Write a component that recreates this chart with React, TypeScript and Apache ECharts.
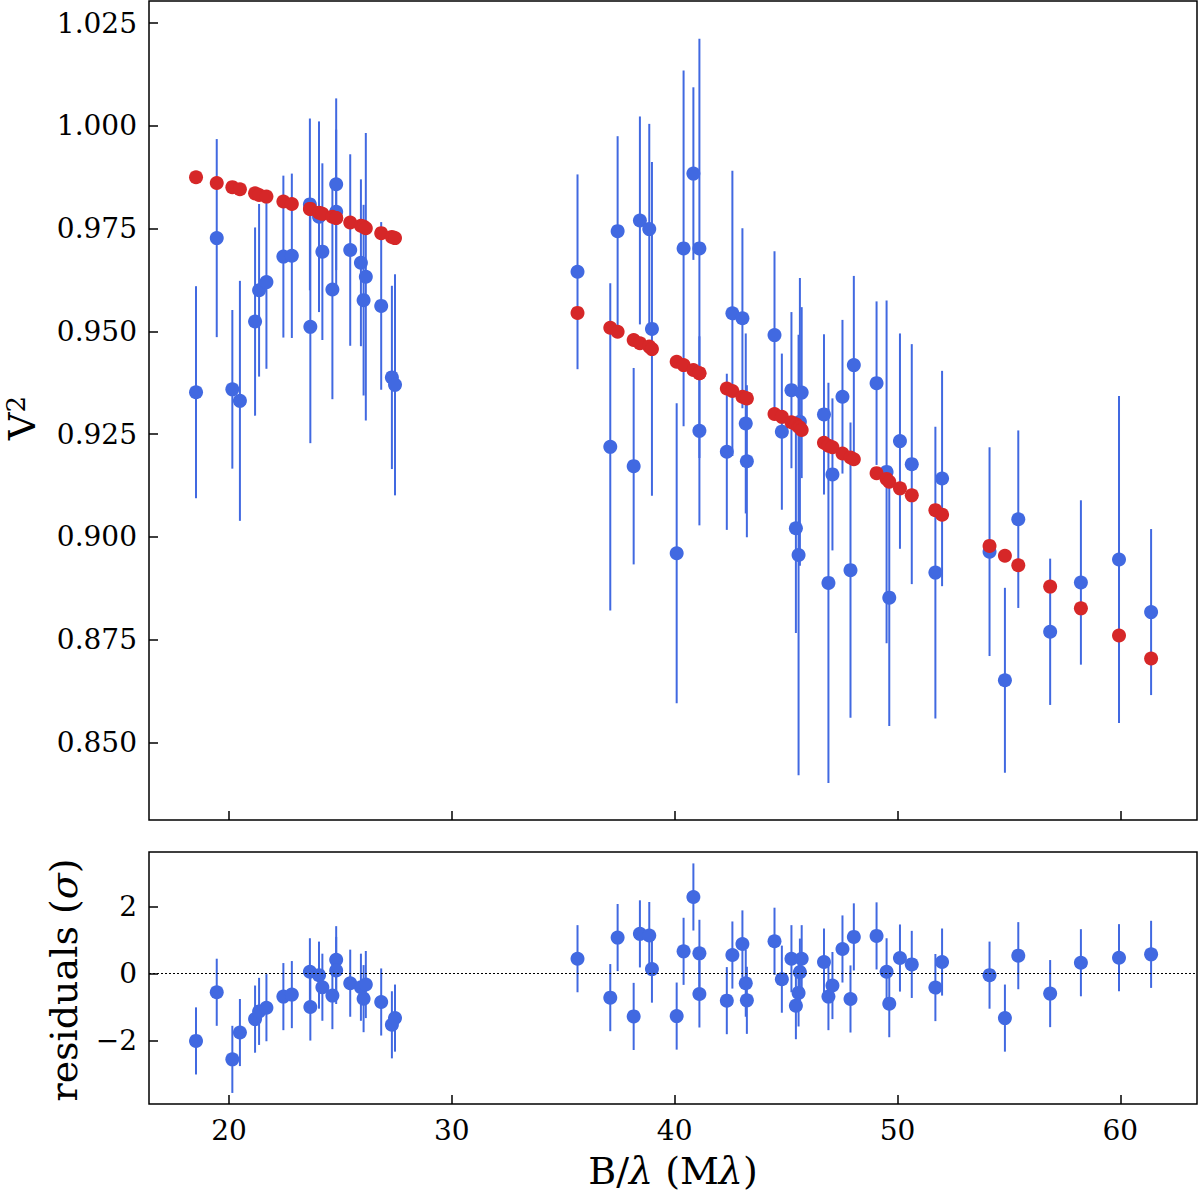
import React, { useRef, useEffect } from "react";
import * as echarts from "echarts";

// baseline B/lambda (Mlambda) of each measurement
const baseline = [
  18.52, 19.45, 20.15, 20.49, 21.17, 21.35, 21.68, 22.44, 22.82, 23.65, 23.63, 24.04,
  24.19, 24.64, 24.81, 24.81, 25.44, 25.92, 26.04, 26.14, 26.83, 27.31, 27.45,
  35.64, 37.11, 37.44, 38.16, 38.44, 38.86, 38.98, 40.09, 40.4, 40.84, 41.11, 41.11,
  42.34, 42.59, 43.04, 43.19, 43.24, 44.48, 44.81, 45.24, 45.44, 45.56, 45.62, 45.7,
  46.7, 46.9, 47.08, 47.53, 47.89, 48.04, 49.06, 49.51, 49.63, 50.11, 50.64, 51.7, 52.0,
  54.13, 54.82, 55.42, 56.85, 58.23, 59.94, 61.38,
];

// measured squared visibilities
const v2 = [
  0.9352, 0.9727, 0.9359, 0.9331, 0.9524, 0.96, 0.962, 0.9682, 0.9684, 0.9511, 0.9809, 0.9779,
  0.9694, 0.9602, 0.9858, 0.9791, 0.9698, 0.9667, 0.9576, 0.9633, 0.9562, 0.9388, 0.937,
  0.9645, 0.9219, 0.9744, 0.9172, 0.977, 0.9749, 0.9506, 0.896, 0.9702, 0.9884, 0.9702, 0.9258,
  0.9207, 0.9544, 0.9532, 0.9276, 0.9184, 0.9491, 0.9256, 0.9357, 0.9021, 0.8956, 0.928, 0.9351,
  0.9298, 0.8888, 0.9152, 0.9341, 0.8919, 0.9418, 0.9374, 0.9158, 0.8852, 0.9233, 0.9177, 0.8913, 0.9142,
  0.8964, 0.8651, 0.9043, 0.8769, 0.8889, 0.8945, 0.8817,
];

// 1-sigma uncertainties on V2
const v2Err = [
  0.0258, 0.0241, 0.0193, 0.0292, 0.0229, 0.021, 0.0211, 0.0197, 0.02, 0.0283, 0.0209, 0.0232,
  0.0215, 0.0267, 0.0209, 0.02, 0.0233, 0.0203, 0.0232, 0.035, 0.0204, 0.0223, 0.0269,
  0.0237, 0.0398, 0.0231, 0.0239, 0.0253, 0.0256, 0.0406, 0.0365, 0.0433, 0.021, 0.051, 0.023,
  0.019, 0.0347, 0.0219, 0.0219, 0.0185, 0.0204, 0.019, 0.019, 0.0255, 0.0536, 0.035, 0.0208,
  0.0195, 0.0487, 0.0185, 0.0187, 0.0359, 0.0217, 0.0199, 0.0417, 0.0312, 0.0262, 0.0292, 0.0355, 0.0262,
  0.0254, 0.0225, 0.0216, 0.0178, 0.02, 0.0398, 0.0202,
];

// best-fit model V2
const model = [
  0.9875, 0.9861, 0.9851, 0.9846, 0.9836, 0.9832, 0.9828, 0.9816, 0.981, 0.9798, 0.9798, 0.9789,
  0.9786, 0.9779, 0.9776, 0.9776, 0.9765, 0.9757, 0.9755, 0.9751, 0.9739, 0.973, 0.9727,
  0.9545, 0.9509, 0.9499, 0.9479, 0.9471, 0.9463, 0.9457, 0.9426, 0.9418, 0.9406, 0.9398, 0.9398,
  0.9361, 0.9355, 0.9341, 0.9338, 0.9337, 0.9299, 0.9292, 0.9279, 0.9274, 0.9268, 0.9266, 0.926,
  0.9229, 0.9222, 0.9218, 0.9203, 0.9193, 0.9189, 0.9155, 0.9141, 0.9134, 0.9118, 0.9101, 0.9065, 0.9054,
  0.8978, 0.8954, 0.8931, 0.8879, 0.8826, 0.876, 0.8704,
];

// residuals in units of sigma
const residuals = [
  -2.01, -0.56, -2.56, -1.76, -1.36, -1.13, -1.02, -0.69, -0.63, -1.0, 0.05, -0.05,
  -0.41, -0.66, 0.41, 0.09, -0.29, -0.41, -0.75, -0.33, -0.85, -1.53, -1.33,
  0.44, -0.72, 1.07, -1.28, 1.18, 1.13, 0.13, -1.27, 0.66, 2.28, 0.6, -0.61,
  -0.81, 0.55, 0.88, -0.29, -0.8, 0.96, -0.17, 0.44, -0.96, -0.58, 0.04, 0.44,
  0.34, -0.69, -0.36, 0.73, -0.76, 1.09, 1.12, 0.05, -0.9, 0.46, 0.27, -0.42, 0.34,
  -0.05, -1.33, 0.53, -0.6, 0.32, 0.47, 0.57,
];
const RESID_ERR = 1;

const baselineTicks = [20, 30, 40, 50, 60];
const v2Ticks = [0.85, 0.875, 0.9, 0.925, 0.95, 0.975, 1.0, 1.025];
const residTicks = [-2, 0, 2];

const BLUE = "#4169e1";
const RED = "#d62728";
const FONT = "DejaVu Serif";

const errorBarRender = (params: any, api: any) => {
  const x = api.value(0);
  const p1 = api.coord([x, api.value(1)]);
  const p2 = api.coord([x, api.value(2)]);
  return {
    type: "line",
    shape: { x1: p1[0], y1: p1[1], x2: p2[0], y2: p2[1] },
    style: { stroke: BLUE, lineWidth: 2 },
  };
};

const tickStyle = { show: true, inside: true, length: 9, lineStyle: { color: "#000", width: 1.5 } };
const labelStyle = { color: "#000", fontFamily: FONT, fontSize: 28 };
const titleRich = {
  a: { fontFamily: FONT, fontSize: 38, fill: "#000" },
  b: { fontFamily: FONT, fontSize: 38, fontStyle: "italic", fill: "#000" },
  s: { fontFamily: FONT, fontSize: 26, fill: "#000", verticalAlign: "top" },
};

const App = () => {
  const chartRef = useRef<HTMLDivElement>(null);

  useEffect(() => {
    const chart = echarts.init(chartRef.current, null, { renderer: "svg" });
    const minus = (v: number) => (v < 0 ? "\u2212" + Math.abs(v) : String(v));
    chart.setOption({
      animation: false,
      backgroundColor: "#fff",
      grid: [
        { left: 149, top: 1, width: 1048, height: 819, show: true, borderColor: "#000", borderWidth: 1.5 },
        { left: 149, top: 852, width: 1048, height: 252, show: true, borderColor: "#000", borderWidth: 1.5 },
      ],
      xAxis: [
        {
          gridIndex: 0, type: "value", min: 16.41, max: 63.44,
          axisLine: { show: false, onZero: false }, splitLine: { show: false },
          axisTick: { ...tickStyle, customValues: baselineTicks },
          axisLabel: { show: false },
        },
        {
          gridIndex: 1, type: "value", min: 16.41, max: 63.44,
          axisLine: { show: false, onZero: false }, splitLine: { show: false },
          axisTick: { ...tickStyle, customValues: baselineTicks },
          axisLabel: { ...labelStyle, margin: 12, customValues: baselineTicks },
        },
      ],
      yAxis: [
        {
          gridIndex: 0, type: "value", min: 0.8311, max: 1.0304,
          axisLine: { show: false, onZero: false }, splitLine: { show: false },
          axisTick: { ...tickStyle, customValues: v2Ticks },
          axisLabel: { ...labelStyle, margin: 12, customValues: v2Ticks, formatter: (v: number) => v.toFixed(3) },
        },
        {
          gridIndex: 1, type: "value", min: -3.89, max: 3.62,
          axisLine: { show: false, onZero: false }, splitLine: { show: false },
          axisTick: { ...tickStyle, customValues: residTicks },
          axisLabel: { ...labelStyle, margin: 12, customValues: residTicks, formatter: minus },
        },
      ],
      graphic: [
        {
          type: "text", x: 22, y: 418, rotation: Math.PI / 2,
          style: { text: "{a|V}{s|2}", align: "center", verticalAlign: "middle", rich: titleRich },
        },
        {
          type: "text", x: 64, y: 980, rotation: Math.PI / 2,
          style: { text: "{a|residuals (}{b|σ}{a|)}", align: "center", verticalAlign: "middle", rich: titleRich },
        },
        {
          type: "text", x: 673, y: 1171,
          style: { text: "{a|B/}{b|λ}{a| (M}{b|λ}{a|)}", align: "center", verticalAlign: "middle", rich: titleRich },
        },
      ],
      series: [
        {
          type: "custom", xAxisIndex: 0, yAxisIndex: 0, z: 1, clip: true,
          renderItem: errorBarRender, encode: { x: 0, y: [1, 2] },
          data: baseline.map((b, i) => [b, v2[i] - v2Err[i], v2[i] + v2Err[i]]),
        },
        {
          type: "scatter", xAxisIndex: 0, yAxisIndex: 0, z: 2, symbolSize: 14,
          itemStyle: { color: BLUE, opacity: 1 },
          data: baseline.map((b, i) => [b, v2[i]]),
        },
        {
          type: "scatter", xAxisIndex: 0, yAxisIndex: 0, z: 3, symbolSize: 14,
          itemStyle: { color: RED, opacity: 1 },
          data: baseline.map((b, i) => [b, model[i]]),
        },
        {
          type: "custom", xAxisIndex: 1, yAxisIndex: 1, z: 1, clip: true,
          renderItem: errorBarRender, encode: { x: 0, y: [1, 2] },
          data: baseline.map((b, i) => [b, residuals[i] - RESID_ERR, residuals[i] + RESID_ERR]),
        },
        {
          type: "scatter", xAxisIndex: 1, yAxisIndex: 1, z: 2, symbolSize: 14,
          itemStyle: { color: BLUE, opacity: 1 },
          data: baseline.map((b, i) => [b, residuals[i]]),
          markLine: {
            silent: true, symbol: "none", label: { show: false },
            lineStyle: { color: "#000", type: [2, 2], width: 1.2 },
            data: [{ yAxis: 0 }],
          },
        },
      ],
    });
    return () => {
      chart.dispose();
    };
  }, []);

  return (
    <div
      ref={chartRef}
      style={{ position: "absolute", left: 0, top: 0, width: 1200, height: 1193, background: "#fff" }}
    />
  );
};

export default App;
